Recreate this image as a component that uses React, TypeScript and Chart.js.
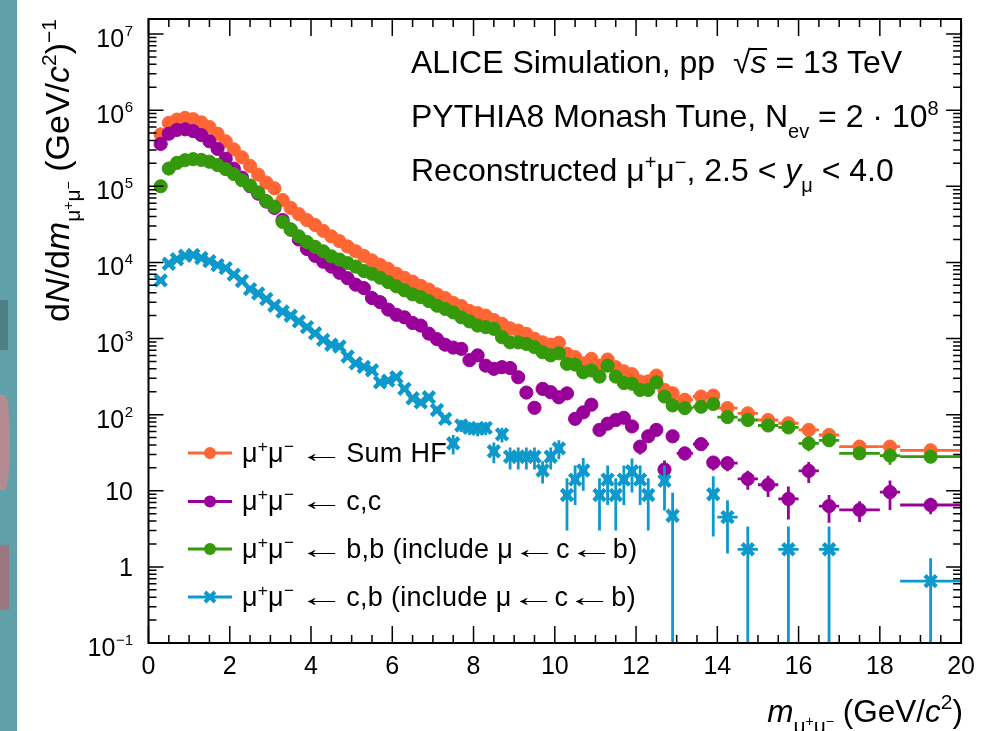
import React, { useEffect, useRef } from "react";
import { Chart, registerables } from "chart.js";

Chart.register(...registerables);

// ---------------- data ----------------
const massBins = [
  0.3, 0.5, 0.7, 0.9, 1.1, 1.3, 1.5, 1.7, 1.9, 2.1,
  2.3, 2.5, 2.7, 2.9, 3.1, 3.3, 3.5, 3.7, 3.9, 4.1,
  4.3, 4.5, 4.7, 4.9, 5.1, 5.3, 5.5, 5.7, 5.9, 6.1,
  6.3, 6.5, 6.7, 6.9, 7.1, 7.3, 7.5, 7.7, 7.9, 8.1,
  8.3, 8.5, 8.7, 8.9, 9.1, 9.3, 9.5, 9.7, 9.9, 10.1,
  10.3, 10.5, 10.7, 10.9, 11.1, 11.3, 11.5, 11.7, 11.9, 12.1,
  12.3, 12.5, 12.7, 12.9, 13.2, 13.6, 13.9, 14.25, 14.75, 15.25,
  15.75, 16.25, 16.75, 17.5, 18.25, 19.25,
];

const binHalfWidths = [
  0.1, 0.1, 0.1, 0.1, 0.1, 0.1, 0.1, 0.1, 0.1, 0.1,
  0.1, 0.1, 0.1, 0.1, 0.1, 0.1, 0.1, 0.1, 0.1, 0.1,
  0.1, 0.1, 0.1, 0.1, 0.1, 0.1, 0.1, 0.1, 0.1, 0.1,
  0.1, 0.1, 0.1, 0.1, 0.1, 0.1, 0.1, 0.1, 0.1, 0.1,
  0.1, 0.1, 0.1, 0.1, 0.1, 0.1, 0.1, 0.1, 0.1, 0.1,
  0.1, 0.1, 0.1, 0.1, 0.1, 0.1, 0.1, 0.1, 0.1, 0.1,
  0.1, 0.1, 0.1, 0.1, 0.2, 0.2, 0.1, 0.25, 0.25, 0.25,
  0.25, 0.25, 0.25, 0.5, 0.25, 0.75,
];

// mu+mu- <- Sum HF
const sumHF = [
  4.8e5, 6.8e5, 7.5e5, 7.9e5, 7.6e5, 6.9e5, 6.0e5, 4.9e5, 3.9e5, 3.05e5,
  2.4e5, 1.85e5, 1.42e5, 1.12e5, 9.4e4, 6.6e4, 5.2e4, 4.3e4, 3.6e4, 3.1e4,
  2.6e4, 2.2e4, 1.9e4, 1.62e4, 1.4e4, 1.22e4, 1.06e4, 9.3e3, 8.2e3, 7.1e3,
  6.25e3, 5.6e3, 4.9e3, 4.4e3, 3.8e3, 3.4e3, 2.94e3, 2.67e3, 2.3e3, 2.15e3,
  2.0e3, 1.75e3, 1.56e3, 1.36e3, 1.27e3, 1.15e3, 990, 890, 830, 880,
  630, 570, 470, 540, 440, 530, 420, 370, 340, 272,
  274, 326, 211, 191, 157, 173, 178, 122, 104, 85,
  77, 63, 54, 38, 38, 34,
];
const sumHFErr = [
  0, 0, 0, 0, 0, 0, 0, 0, 0, 0,
  0, 0, 0, 0, 0, 0, 0, 0, 0, 0,
  0, 0, 0, 0, 0, 0, 0, 0, 0, 0,
  0, 0, 0, 0, 0, 0, 0, 0, 0, 0,
  30, 28, 26, 24, 24, 22, 20, 20, 19, 20,
  17, 16, 15, 16, 14, 15, 13, 13, 12, 11,
  11, 12, 10, 9, 8, 8, 9, 7, 7, 7,
  6, 9, 5, 3, 8, 2,
];

// mu+mu- <- c,c
const ccbar = [
  3.6e5, 4.9e5, 5.5e5, 5.6e5, 5.3e5, 4.7e5, 3.9e5, 3.1e5, 2.3e5, 1.7e5,
  1.3e5, 1.0e5, 8.0e4, 6.3e4, 5.2e4, 3.6e4, 2.7e4, 2.0e4, 1.5e4, 1.22e4,
  1.02e4, 8.8e3, 7.3e3, 6.2e3, 5.1e3, 4.6e3, 3.4e3, 3.0e3, 2.4e3, 2.05e3,
  1.9e3, 1.6e3, 1.48e3, 1.16e3, 980, 830, 760, 730, 520, 600,
  440, 400, 420, 410, 310, 195, 123, 218, 197, 169,
  190, 88, 107, 135, 63, 76, 85, 91, 70, 38,
  52, 63, 19, 52, 31, 41, 23.5, 23, 14.3, 12,
  7.8, 18.2, 6.3, 5.6, 9.6, 6.5,
];
const ccbarErr = [
  0, 0, 0, 0, 0, 0, 0, 0, 0, 0,
  0, 0, 0, 0, 0, 0, 0, 0, 0, 0,
  0, 0, 0, 0, 0, 0, 0, 0, 0, 0,
  0, 0, 0, 0, 25, 24, 22, 22, 19, 20,
  17, 16, 16, 16, 14, 12, 10, 13, 12, 12,
  12, 9, 10, 11, 11, 11, 11, 11, 10, 8,
  9, 10, 6, 9, 6, 6, 5, 5, 4, 3.7,
  3.6, 5.6, 2.5, 1.7, 4, 1.6,
];

// mu+mu- <- b,b
const bbbar = [
  1.0e5, 1.71e5, 2.03e5, 2.2e5, 2.27e5, 2.22e5, 2.1e5, 1.9e5, 1.68e5, 1.45e5,
  1.2e5, 1.02e5, 8.3e4, 6.4e4, 5.4e4, 3.4e4, 2.7e4, 2.2e4, 1.85e4, 1.6e4,
  1.4e4, 1.2e4, 1.09e4, 9.8e3, 8.8e3, 7.7e3, 7.1e3, 6.3e3, 5.5e3, 4.85e3,
  4.3e3, 3.8e3, 3.5e3, 3.1e3, 2.7e3, 2.45e3, 2.2e3, 1.9e3, 1.68e3, 1.48e3,
  1.41e3, 1.34e3, 1.04e3, 890, 890, 850, 770, 660, 600, 640,
  465, 455, 360, 380, 316, 440, 316, 260, 255, 211,
  211, 266, 173, 132, 122, 127, 138, 93, 85, 72,
  68, 42, 46, 31, 29, 28,
];
const bbbarErr = [
  0, 0, 0, 0, 0, 0, 0, 0, 0, 0,
  0, 0, 0, 0, 0, 0, 0, 0, 0, 0,
  0, 0, 0, 0, 0, 0, 0, 0, 0, 0,
  0, 0, 0, 0, 0, 0, 0, 0, 0, 0,
  0, 0, 0, 0, 0, 0, 0, 0, 0, 0,
  12, 12, 10, 11, 10, 12, 10, 9, 9, 8,
  8, 9, 15, 12, 9, 9, 10, 7, 6, 6,
  6, 9, 5, 3, 7, 2,
];

// mu+mu- <- c,b  (null = empty bin)
const cbbar = [
  5.8e3, 9.6e3, 1.1e4, 1.22e4, 1.25e4, 1.14e4, 1.04e4, 9.2e3, 8.4e3, 6.9e3,
  5.7e3, 4.45e3, 3.9e3, 3.3e3, 2.7e3, 2.26e3, 1.99e3, 1.68e3, 1.41e3, 1.17e3,
  960, 830, 785, 580, 473, 424, 383, 266, 280, 310,
  218, 164, 145, 169, 115, 88, 42, 72, 67, 65,
  67, 33, 55, 28, 28, 28, 28, 18.5, 28, 36,
  8.8, 14, 18.5, null, 8.8, 14, 8.8, 14, 18, 14,
  8.8, null, 13.5, 4.7, null, null, 9, 4.5, 1.7, null,
  1.7, null, 1.7, null, null, 0.65,
];
const cbbarErr = [
  0, 0, 0, 0, 0, 0, 0, 0, 0, 0,
  0, 0, 0, 0, 0, 0, 0, 0, 0, 0,
  0, 0, 0, 0, 0, 0, 0, 0, 0, 0,
  15, 14, 13, 14, 12, 11, 12, 13, 13, 13,
  13, 10, 12, 9, 9, 9, 9, 6, 9, 10,
  5.8, 7.5, 8.5, 0, 5.8, 7.5, 5.8, 7.5, 8.5, 7.5,
  5.8, 0, 8, 4.7, 0, 0, 6.5, 3, 1.7, 0,
  1.7, 0, 1.7, 0, 0, 0.65,
];

const seriesColors = ["#ff6633", "#990099", "#349a0c", "#0d99cc"];

const xTickValues = [0, 2, 4, 6, 8, 10, 12, 14, 16, 18, 20];
const X_MINOR_STEP = 0.5;
const yTickValues = [0.1, 1, 10, 100, 1e3, 1e4, 1e5, 1e6, 1e7];
const yTickBases = ["10", "1", "10", "10", "10", "10", "10", "10", "10"];
const yTickExps = ["\u22121", "", "", "2", "3", "4", "5", "6", "7"];

const X_MIN = 0;
const X_MAX = 20;
const Y_MIN = 0.1;
const Y_MAX = 1.575e7;

const FONT = '"Liberation Sans", Arial, Helvetica, sans-serif';

// legend rows (layout only)
const legendRowsY = [453, 501.5, 549, 597];

function buildPoints(values: (number | null)[], errs: number[]) {
  const pts: any[] = [];
  for (let i = 0; i < massBins.length; i++) {
    const v = values[i];
    if (v === null || v === undefined) continue;
    pts.push({ x: massBins[i], y: v, xErr: binHalfWidths[i], yErr: errs[i] });
  }
  return pts;
}

const errorBarPlugin = {
  id: "errorBars",
  beforeDatasetDraw(chart: any, args: any) {
    const ds = chart.data.datasets[args.index];
    const { ctx, chartArea: a, scales } = chart;
    const xs = scales.x;
    const ys = scales.y;
    ctx.save();
    ctx.beginPath();
    ctx.rect(a.left, a.top, a.right - a.left, a.bottom - a.top);
    ctx.clip();
    ctx.strokeStyle = ds.borderColor;
    ctx.lineWidth = 2.8;
    for (const p of ds.data) {
      const px = xs.getPixelForValue(p.x);
      const py = ys.getPixelForValue(p.y);
      ctx.beginPath();
      if (p.xErr) {
        ctx.moveTo(xs.getPixelForValue(p.x - p.xErr), py);
        ctx.lineTo(xs.getPixelForValue(p.x + p.xErr), py);
      }
      if (p.yErr) {
        const top = ys.getPixelForValue(p.y + p.yErr);
        const lo = p.y - p.yErr;
        const bot = lo > 1e-9 ? ys.getPixelForValue(lo) : a.bottom;
        ctx.moveTo(px, top);
        ctx.lineTo(px, bot);
      }
      ctx.stroke();
    }
    ctx.restore();
  },
};

const framePlugin = {
  id: "frameTicks",
  afterDatasetsDraw(chart: any) {
    const { ctx, chartArea: a, scales } = chart;
    const x = scales.x;
    const y = scales.y;
    ctx.save();
    ctx.strokeStyle = "#000";
    ctx.lineWidth = 1.5;
    ctx.beginPath();
    for (let k = 0; k * X_MINOR_STEP <= X_MAX + 1e-9; k++) {
      const v = X_MIN + k * X_MINOR_STEP;
      const major = xTickValues.indexOf(v) >= 0;
      const len = major ? 17 : 8;
      const px = x.getPixelForValue(v);
      ctx.moveTo(px, a.bottom);
      ctx.lineTo(px, a.bottom - len);
      ctx.moveTo(px, a.top);
      ctx.lineTo(px, a.top + len);
    }
    for (let e = -1; e <= 7; e++) {
      for (let m = 1; m <= 9; m++) {
        const v = m * Math.pow(10, e);
        if (v > Y_MAX * 1.0001 || v < Y_MIN * 0.9999) continue;
        const py = y.getPixelForValue(v);
        const len = m === 1 ? 15 : 8;
        ctx.moveTo(a.left, py);
        ctx.lineTo(a.left + len, py);
        ctx.moveTo(a.right, py);
        ctx.lineTo(a.right - len, py);
      }
    }
    ctx.stroke();
    ctx.lineWidth = 2;
    ctx.strokeRect(a.left, a.top, a.right - a.left, a.bottom - a.top);

    // y tick labels (10^n drawn with a raised exponent)
    ctx.fillStyle = "#000";
    ctx.textAlign = "right";
    ctx.textBaseline = "alphabetic";
    const right = a.left - 15.5;
    yTickValues.forEach((v, i) => {
      const py = y.getPixelForValue(v);
      const exp = yTickExps[i];
      if (!exp) {
        ctx.font = `25px ${FONT}`;
        ctx.fillText(yTickBases[i], right, py + 9);
      } else {
        ctx.font = `15px ${FONT}`;
        ctx.fillText(exp, right, py + 2);
        const w = ctx.measureText(exp).width;
        ctx.font = `25px ${FONT}`;
        ctx.fillText(yTickBases[i], right - w - 0.5, py + 13);
      }
    });

    // legend symbols
    chart.data.datasets.forEach((ds: any, i: number) => {
      const cy = legendRowsY[i];
      ctx.strokeStyle = ds.borderColor;
      ctx.fillStyle = ds.borderColor;
      ctx.lineWidth = 3;
      ctx.beginPath();
      ctx.moveTo(188, cy);
      ctx.lineTo(232, cy);
      ctx.stroke();
      if (ds.pointStyle === "crossRot") {
        ctx.lineWidth = 4;
        ctx.beginPath();
        ctx.moveTo(205, cy - 5);
        ctx.lineTo(215, cy + 5);
        ctx.moveTo(215, cy - 5);
        ctx.lineTo(205, cy + 5);
        ctx.stroke();
      } else {
        ctx.beginPath();
        ctx.arc(210, cy, 6, 0, Math.PI * 2);
        ctx.fill();
      }
    });
    ctx.restore();
  },
};

const supH: React.CSSProperties = { fontSize: 20, position: "relative", top: -12 };
const subH: React.CSSProperties = { fontSize: 20, position: "relative", top: 11 };
const supL: React.CSSProperties = { fontSize: 17, position: "relative", top: -10 };

function MuMu({ sup }: { sup: React.CSSProperties }) {
  return (
    <>
      {"\u03bc"}
      <span style={sup}>+</span>
      {"\u03bc"}
      <span style={sup}>{"\u2212"}</span>
    </>
  );
}

function Arrow({ ml, mr }: { ml: number; mr: number }) {
  return (
    <span style={{ display: "inline-block", position: "relative", width: 25, marginLeft: ml, marginRight: mr }}>
      <span
        style={{
          position: "absolute",
          left: -10,
          width: 45,
          top: 0,
          textAlign: "center",
          transform: "scaleX(1.7)",
        }}
      >
        {"\u2190"}
      </span>
      {"\u00a0"}
    </span>
  );
}

const legendTexts = [
  ["Sum HF"],
  ["c,c"],
  ["b,b (include \u03bc", "c", "b)"],
  ["c,b (include \u03bc", "c", "b)"],
];

export default function App() {
  const canvasRef = useRef<HTMLCanvasElement>(null);

  useEffect(() => {
    const series = [
      { label: "Sum HF", values: sumHF, errs: sumHFErr, order: 3, style: "circle" },
      { label: "c,c", values: ccbar, errs: ccbarErr, order: 2, style: "circle" },
      { label: "b,b", values: bbbar, errs: bbbarErr, order: 1, style: "circle" },
      { label: "c,b", values: cbbar, errs: cbbarErr, order: 0, style: "crossRot" },
    ];
    const datasets = series.map((s, i) => ({
      label: s.label,
      data: buildPoints(s.values, s.errs),
      borderColor: seriesColors[i],
      backgroundColor: seriesColors[i],
      pointStyle: s.style,
      pointRadius: s.style === "crossRot" ? 8 : 6.6,
      pointBorderWidth: s.style === "crossRot" ? 4.4 : 1,
      showLine: false,
      order: s.order,
    }));

    const chart = new Chart(canvasRef.current as HTMLCanvasElement, {
      type: "scatter",
      data: { datasets } as any,
      options: {
        animation: false,
        responsive: false,
        devicePixelRatio: 1,
        events: [],
        layout: { padding: { left: 0, right: 21.5, top: 19, bottom: 0 } },
        plugins: { legend: { display: false }, tooltip: { enabled: false } },
        scales: {
          x: {
            type: "linear",
            min: X_MIN,
            max: X_MAX,
            grid: { display: false, drawTicks: false },
            border: { display: false },
            afterBuildTicks: (s: any) => {
              s.ticks = xTickValues.map((v) => ({ value: v }));
            },
            ticks: {
              autoSkip: false,
              maxRotation: 0,
              color: "#000",
              padding: 9,
              font: { family: FONT, size: 25 },
              callback: (v: any) => String(v),
            },
            afterFit: (s: any) => {
              s.height = 88;
            },
          },
          y: {
            type: "logarithmic",
            min: Y_MIN,
            max: Y_MAX,
            grid: { display: false, drawTicks: false },
            border: { display: false },
            ticks: { display: false },
            afterFit: (s: any) => {
              s.width = 148.5;
            },
          },
        },
      } as any,
      plugins: [errorBarPlugin, framePlugin],
    });
    return () => chart.destroy();
  }, []);

  const F1 = 32;
  const FL = 27;
  const FY = 34;
  const FX = 31.5;
  const subA: React.CSSProperties = { fontSize: 21, position: "relative", top: 11 };
  const supInSub: React.CSSProperties = { fontSize: 14, position: "relative", top: -7 };
  const supA: React.CSSProperties = { fontSize: 21, position: "relative", top: -13 };

  return (
    <div
      style={{
        position: "absolute",
        left: 0,
        top: 0,
        width: 984,
        height: 731,
        background: "#fff",
        overflow: "hidden",
        fontFamily: FONT,
        color: "#000",
      }}
    >
      {/* slide background strip on the left edge */}
      <div style={{ position: "absolute", left: 0, top: 0, width: 17, height: 731, background: "#5fa0a9" }} />
      <div style={{ position: "absolute", left: 0, top: 300, width: 8, height: 50, background: "#4f7f86" }} />
      <div style={{ position: "absolute", left: 0, top: 395, width: 10, height: 95, background: "#b48a93", borderRadius: "0 50% 50% 0" }} />
      <div style={{ position: "absolute", left: 0, top: 545, width: 9, height: 65, background: "#9b7782" }} />

      <canvas
        ref={canvasRef}
        width={984}
        height={731}
        style={{ position: "absolute", left: 0, top: 0, width: 984, height: 731 }}
      />

      {/* header text */}
      <div style={{ position: "absolute", left: 411, top: 73 - 0.8465 * F1, fontSize: F1, lineHeight: `${F1}px`, whiteSpace: "nowrap" }}>
        ALICE Simulation, pp{"\u00a0\u00a0"}
        {"\u221a"}
        <span style={{ position: "relative", display: "inline-block" }}>
          <span style={{ position: "absolute", left: -1, right: 0, top: 2, borderTop: "2px solid #000" }} />
          <i>s</i>
        </span>
        {" = 13 TeV"}
      </div>
      <div style={{ position: "absolute", left: 411, top: 127 - 0.8465 * F1, fontSize: F1, lineHeight: `${F1}px`, whiteSpace: "nowrap" }}>
        PYTHIA8 Monash Tune, N<span style={subH}>ev</span>
        {" = 2 \u00b7 10"}
        <span style={supH}>8</span>
      </div>
      <div style={{ position: "absolute", left: 411, top: 181 - 0.8465 * F1, fontSize: F1, lineHeight: `${F1}px`, whiteSpace: "nowrap" }}>
        {"Reconstructed "}
        <MuMu sup={supH} />
        {", 2.5 < "}
        <i>y</i>
        <span style={subH}>{"\u03bc"}</span>
        {" < 4.0"}
      </div>

      {/* legend texts */}
      {legendTexts.map((parts, i) => (
        <div
          key={i}
          style={{
            position: "absolute",
            left: 242,
            top: legendRowsY[i] + 9.7 - 0.8465 * FL,
            fontSize: FL,
            lineHeight: `${FL}px`,
            whiteSpace: "nowrap",
            letterSpacing: 0.3,
          }}
        >
          <MuMu sup={supL} />
          <Arrow ml={15} mr={12} />
          {parts.map((p, j) => (
            <React.Fragment key={j}>
              {j > 0 ? <Arrow ml={9} mr={9} /> : null}
              {p}
            </React.Fragment>
          ))}
        </div>
      ))}

      {/* y axis title */}
      <div
        style={{
          position: "absolute",
          left: 40,
          top: 19 + 360,
          width: 360,
          height: FY,
          fontSize: FY,
          lineHeight: `${FY}px`,
          whiteSpace: "nowrap",
          textAlign: "right",
          transformOrigin: "0 0",
          transform: "rotate(-90deg)",
        }}
      >
        d<i>N</i>/d<i>m</i>
        <span style={subA}>
          {"\u03bc"}
          <span style={supInSub}>+</span>
          {"\u03bc"}
          <span style={supInSub}>{"\u2212"}</span>
        </span>
        {" (GeV/"}
        <i>c</i>
        <span style={supA}>2</span>)<span style={supA}>{"\u22121"}</span>
      </div>

      {/* x axis title */}
      <div
        style={{
          position: "absolute",
          right: 984 - 963,
          top: 723 - 0.8465 * FX,
          fontSize: FX,
          lineHeight: `${FX}px`,
          whiteSpace: "nowrap",
        }}
      >
        <i>m</i>
        <span style={subA}>
          {"\u03bc"}
          <span style={supInSub}>+</span>
          {"\u03bc"}
          <span style={supInSub}>{"\u2212"}</span>
        </span>
        {" (GeV/"}
        <i>c</i>
        <span style={supA}>2</span>)
      </div>
    </div>
  );
}
